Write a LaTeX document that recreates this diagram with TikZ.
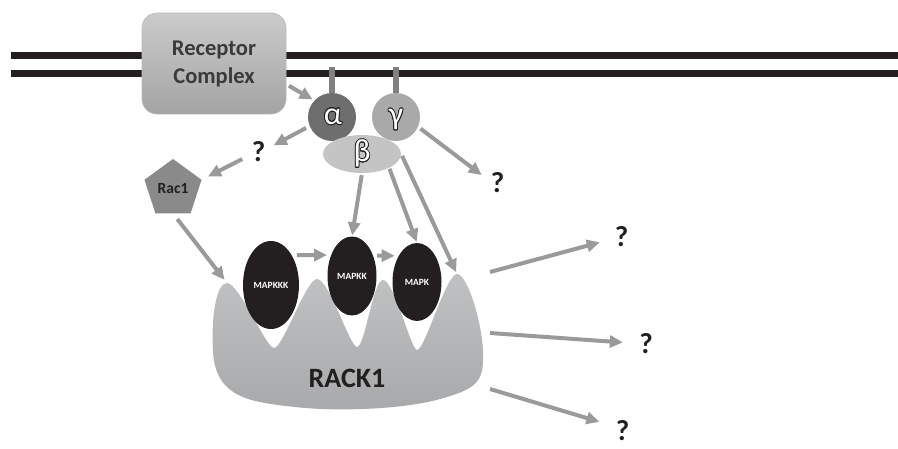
\documentclass[tikz,border=0pt]{standalone}
\usepackage{fontspec}
\setmainfont{Carlito}
\usepackage{contour}
\contourlength{0.8pt}
\usetikzlibrary{arrows.meta,shapes.geometric,calc}

\definecolor{membrane}{HTML}{231F20}
\definecolor{arrowgray}{HTML}{999A9C}
\definecolor{inkdark}{HTML}{231F20}
\definecolor{boxtop}{HTML}{CBCBCB}
\definecolor{boxbot}{HTML}{A4A4A4}
\definecolor{boxedge}{HTML}{B8B8B8}
\definecolor{alphafill}{HTML}{6E6E6E}
\definecolor{gammafill}{HTML}{A9A9A9}
\definecolor{betafill}{HTML}{C4C4C4}
\definecolor{stickgray}{HTML}{808080}
\definecolor{racfill}{HTML}{8A8A8A}
\definecolor{racktop}{HTML}{C0C1C2}
\definecolor{rackbot}{HTML}{A8A9AA}
\definecolor{labeldark}{HTML}{3A3A3A}

\newcommand\greekmark[1]{{\color{white}\contour{inkdark}{#1}}}

\begin{document}
\begin{tikzpicture}[x=1pt,y=-1pt,
  arr/.style={draw=arrowgray, line width=4pt,
    -{Triangle[length=13pt,width=12pt]}},
  memline/.style={draw=membrane, line width=7pt},
  stick/.style={draw=stickgray, line width=6pt},
  subunit/.style={circle, minimum size=48pt, inner sep=0pt},
  greek/.style={inner sep=0pt, font=\fontsize{32}{34}\selectfont},
  kinase/.style={ellipse, fill=inkdark, inner sep=0pt, text=white,
    font=\fontsize{9.5}{10}\selectfont\bfseries},
  qmark/.style={inner sep=0pt, minimum width=16pt, minimum height=22pt,
    text=inkdark, font=\fontsize{29}{30}\selectfont\bfseries}
]
\useasboundingbox (0,0) rectangle (898,448);

% plasma membrane
\draw[memline] (11,55.5) -- (898,55.5);
\draw[memline] (11,73.5) -- (898,73.5);

% receptor complex
\node[draw=boxedge, line width=0.6pt, rounded corners=15pt,
      top color=boxtop, bottom color=boxbot,
      minimum width=144pt, minimum height=101pt, inner sep=0pt,
      align=center, text=labeldark,
      font=\fontsize{22.5}{28}\selectfont\bfseries]
  (receptor) at (214,63.5) {Receptor\\Complex};

% membrane anchors of the G-protein subunits
\coordinate (anchorA) at (332,67);
\coordinate (anchorG) at (396,67);

% RACK1 scaffold
\coordinate (peakA) at (227,283);
\coordinate (peakB) at (317,279);
\coordinate (peakC) at (383,280);
\coordinate (peakD) at (457,274);
\shade[top color=racktop, bottom color=rackbot]
  (peakA)
  .. controls (239,283) and (266,348) .. (274,348)
  .. controls (283,348) and (306,279) .. (peakB)
  .. controls (329,279) and (350,347) .. (357,347)
  .. controls (365,347) and (373,280) .. (peakC)
  .. controls (394,280) and (411,350) .. (417,350)
  .. controls (425,350) and (446,274) .. (peakD)
  .. controls (468,274) and (485,330) .. (483,362)
  .. controls (482,384) and (472,390) .. (440,399)
  .. controls (405,409) and (340,412) .. (295,407)
  .. controls (250,402) and (216,398) .. (213,352)
  .. controls (211,318) and (216,283) .. (peakA) -- cycle;
\node[text=inkdark, font=\fontsize{28}{30}\selectfont\bfseries]
  (rack) at (347,378) {RACK1};

% MAP kinase cascade
\node[kinase, minimum width=56pt, minimum height=88pt] (mapkkk) at (271,285) {MAPKKK};
\node[kinase, minimum width=49pt, minimum height=79pt] (mapkk) at (352,276) {MAPKK};
\node[kinase, minimum width=49pt, minimum height=78pt] (mapk) at (417,282) {MAPK};

% heterotrimeric G protein
\node[subunit, fill=alphafill] (alpha) at (332,117) {};
\node[subunit, fill=gammafill] (gamma) at (396,117) {};
\draw[stick] (anchorA) -- (alpha.north);
\draw[stick] (anchorG) -- (gamma.north);
\node[greek] (alphalbl) at (333,117) {\greekmark{α}};
\node[greek] (gammalbl) at (396,120) {\greekmark{γ}};
\node[ellipse, fill=betafill, minimum width=78pt, minimum height=38pt,
      inner sep=0pt] (beta) at (362,154) {};
\node[greek] (betalbl) at (362,154) {\greekmark{β}};

% Rac1
\node[regular polygon, regular polygon sides=5, minimum size=60pt,
      inner sep=0pt, fill=racfill, text=inkdark,
      font=\fontsize{15.5}{16}\selectfont\bfseries]
  (rac1) at (173,189) {\raisebox{-3pt}{Rac1}};

% unknown partners
\node[qmark] (q1) at (258.5,152) {?};
\node[qmark] (q2) at (497.5,183) {?};
\node[qmark] (q3) at (621.5,236.5) {?};
\node[qmark] (q4) at (646,343.5) {?};
\node[qmark] (q5) at (622.5,431) {?};

% outputs leaving the scaffold
\coordinate (out1) at (490,272);
\coordinate (out2) at (490,333);
\coordinate (out3) at (490,389);

% signalling arrows
\draw[arr, shorten <=3pt, shorten >=2pt] (receptor.-16) -- (alpha.137);
\draw[arr, shorten <=4pt, shorten >=8pt] (alpha.202) -- (q1.20);
\draw[arr, shorten <=9pt, shorten >=7pt] (q1.200) -- (rac1.18);
\draw[arr, shorten <=3pt, shorten >=9.5pt] (gamma.-24) -- (q2.165);
\draw[arr, shorten <=7pt, shorten >=4pt] (rac1.south) -- (peakA);
\draw[arr, shorten <=2pt, shorten >=1pt] (beta.south) -- (mapkk.north);
\draw[arr, shorten <=1pt, shorten >=1pt] (beta.-27) -- (mapk.north);
\draw[arr, shorten <=2pt, shorten >=2pt] (beta.east) -- (peakD);
\draw[arr, shorten <=5pt, shorten >=4pt] (mapkkk.55) -- (mapkk.135);
\draw[arr, shorten <=4pt, shorten >=4pt] (mapkk.44) -- (mapk.125);
\draw[arr, shorten >=14pt] (out1) -- (q3.195);
\draw[arr, shorten >=15pt] (out2) -- (q4.west);
\draw[arr, shorten >=15.5pt] (out3) -- (q5.150);
\end{tikzpicture}
\end{document}
